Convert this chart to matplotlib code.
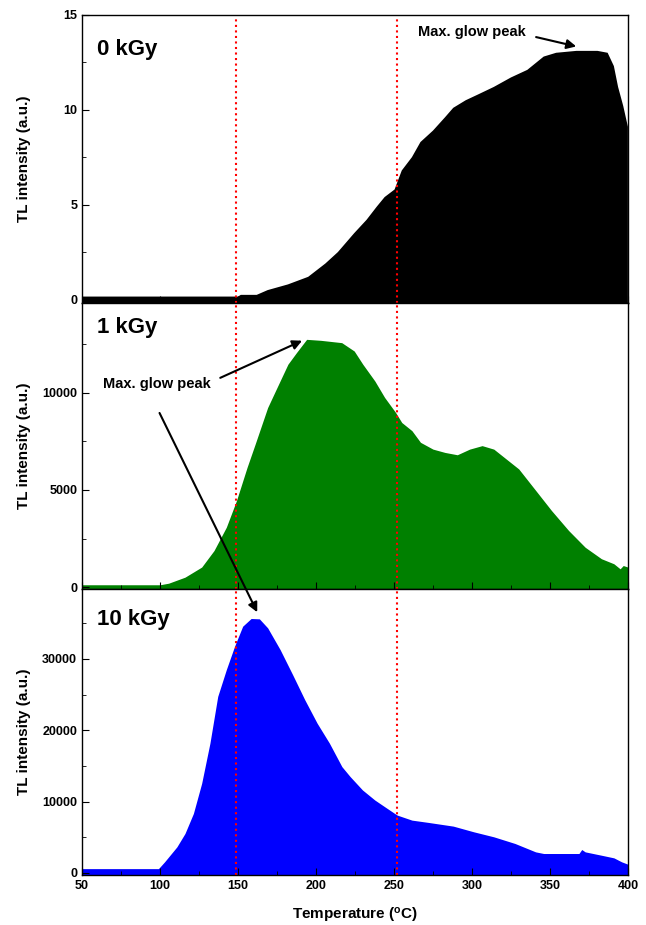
import matplotlib.pyplot as plt
import numpy as np
from matplotlib.ticker import MultipleLocator

plt.rcParams['font.family'] = ['Liberation Sans', 'DejaVu Sans']
plt.rcParams['font.weight'] = 'bold'

# 0 kGy
t0 = [50, 150, 151.8, 162, 169, 182, 195, 206, 214, 224.5, 232.4, 239, 244, 250.4, 255,
      261.5, 267, 275, 282.7, 288, 296, 303.8, 314, 325, 335.5, 346, 354, 367, 380.5,
      387, 391, 393.7, 397, 400]
i0 = [0.16, 0.16, 0.25, 0.25, 0.5, 0.8, 1.2, 1.9, 2.5, 3.5, 4.2, 4.9, 5.4, 5.8, 6.8,
      7.5, 8.3, 8.9, 9.6, 10.1, 10.5, 10.8, 11.2, 11.7, 12.1, 12.8, 13.0, 13.1, 13.1,
      13.0, 12.3, 11.2, 10.2, 9.1]

# 1 kGy
t1 = [50, 100, 105.5, 116, 126.7, 134.6, 142.5, 149, 155.8, 161, 169, 174, 182, 187.5,
      194, 203, 216.5, 224.5, 230, 237.7, 244, 251, 255, 261.5, 267, 275, 282.7, 290.6,
      298.5, 306.5, 314, 322, 330, 341, 351, 362, 372.6, 383, 391, 395, 397, 400]
i1 = [120, 120, 200, 510, 1030, 1880, 3080, 4450, 6160, 7360, 9240, 10100, 11470, 12070,
      12750, 12700, 12580, 12150, 11470, 10610, 9760, 8990, 8470, 8050, 7450, 7100, 6930,
      6810, 7100, 7280, 7100, 6590, 6080, 4960, 3940, 2910, 2050, 1460, 1200, 940, 1110, 1030]

# 10 kGy
t10 = [50, 99, 102.9, 110.8, 116, 121.4, 126.7, 132, 137, 142.5, 147.8, 153, 158.4, 163.7,
       169, 177, 185, 192.8, 200.7, 208.6, 216.6, 221.9, 229.8, 237.7, 245.6, 252, 261.5,
       272, 288, 301, 314, 327.6, 340.8, 346, 368.6, 370.4, 372.6, 383, 391, 396, 400]
i10 = [600, 600, 1550, 3650, 5530, 8340, 12560, 18190, 24750, 28500, 31780, 34590, 35670,
       35620, 34360, 31310, 27800, 24280, 21000, 18190, 14900, 13500, 11630, 10220, 9050,
       8110, 7400, 7080, 6560, 5770, 5060, 4125, 2950, 2720, 2720, 3280, 2950, 2480, 2110,
       1550, 1220]

fig = plt.figure(figsize=(6.46, 9.25), dpi=100)
L, W = 0.127, 0.845
ax1 = fig.add_axes([L, 0.672, W, 0.312])
ax2 = fig.add_axes([L, 0.3632, W, 0.3088])
ax3 = fig.add_axes([L, 0.054, W, 0.3092])

panels = [
    (ax1, t0, i0, 'black', (-0.2, 15), 5, 2.5, '0 kGy', 0.88),
    (ax2, t1, i1, 'green', (-100, 14600), 5000, 2500, '1 kGy', 0.916),
    (ax3, t10, i10, 'blue', (-300, 39800), 10000, 5000, '10 kGy', 0.895),
]
for ax, t, y, c, yl, maj, mnr, lab, ly in panels:
    ax.fill_between(t, y, yl[0] - 1000, color=c, lw=0)
    ax.set_xlim(50, 400)
    ax.set_ylim(*yl)
    ax.yaxis.set_major_locator(MultipleLocator(maj))
    ax.yaxis.set_minor_locator(MultipleLocator(mnr))
    ax.xaxis.set_major_locator(MultipleLocator(50))
    ax.xaxis.set_minor_locator(MultipleLocator(25))
    ax.tick_params(which='both', direction='in', labelsize=9)
    ax.tick_params(which='major', length=5)
    ax.tick_params(which='minor', length=3)
    for v in (149, 252):
        ax.axvline(v, color='red', ls=':', lw=1.5)
    ax.set_ylabel('TL intensity (a.u.)', fontsize=11, fontweight='bold')
    ax.yaxis.set_label_coords(-0.093, 0.5)
    ax.text(0.028, ly, lab, transform=ax.transAxes, fontsize=16, fontweight='bold',
            va='center', ha='left')
    for s in ax.spines.values():
        s.set_linewidth(1)

ax1.tick_params(labelbottom=False)
ax2.tick_params(labelbottom=False)
ax3.set_xlabel('Temperature ($\\mathregular{^{o}}$C)', fontsize=11, fontweight='bold',
               labelpad=10)

ap = dict(arrowstyle='-|>', color='black', lw=1.5, mutation_scale=14)
ax1.text(265.4, 14.07, 'Max. glow peak', fontsize=10.5, fontweight='bold', va='center')
ax1.annotate('', xy=(368.6, 13.3), xytext=(339.4, 13.86), arrowprops=ap)

ax2.text(63.2, 10460, 'Max. glow peak', fontsize=10.5, fontweight='bold', va='center')
ax2.annotate('', xy=(192.7, 12740), xytext=(137, 10710), arrowprops=ap)
ax3.annotate('', xy=(163.1, 36200), xycoords='data',
             xytext=(98.9, 9090), textcoords=ax2.transData,
             arrowprops=ap, annotation_clip=False)

fig.savefig('out.png', dpi=100)
